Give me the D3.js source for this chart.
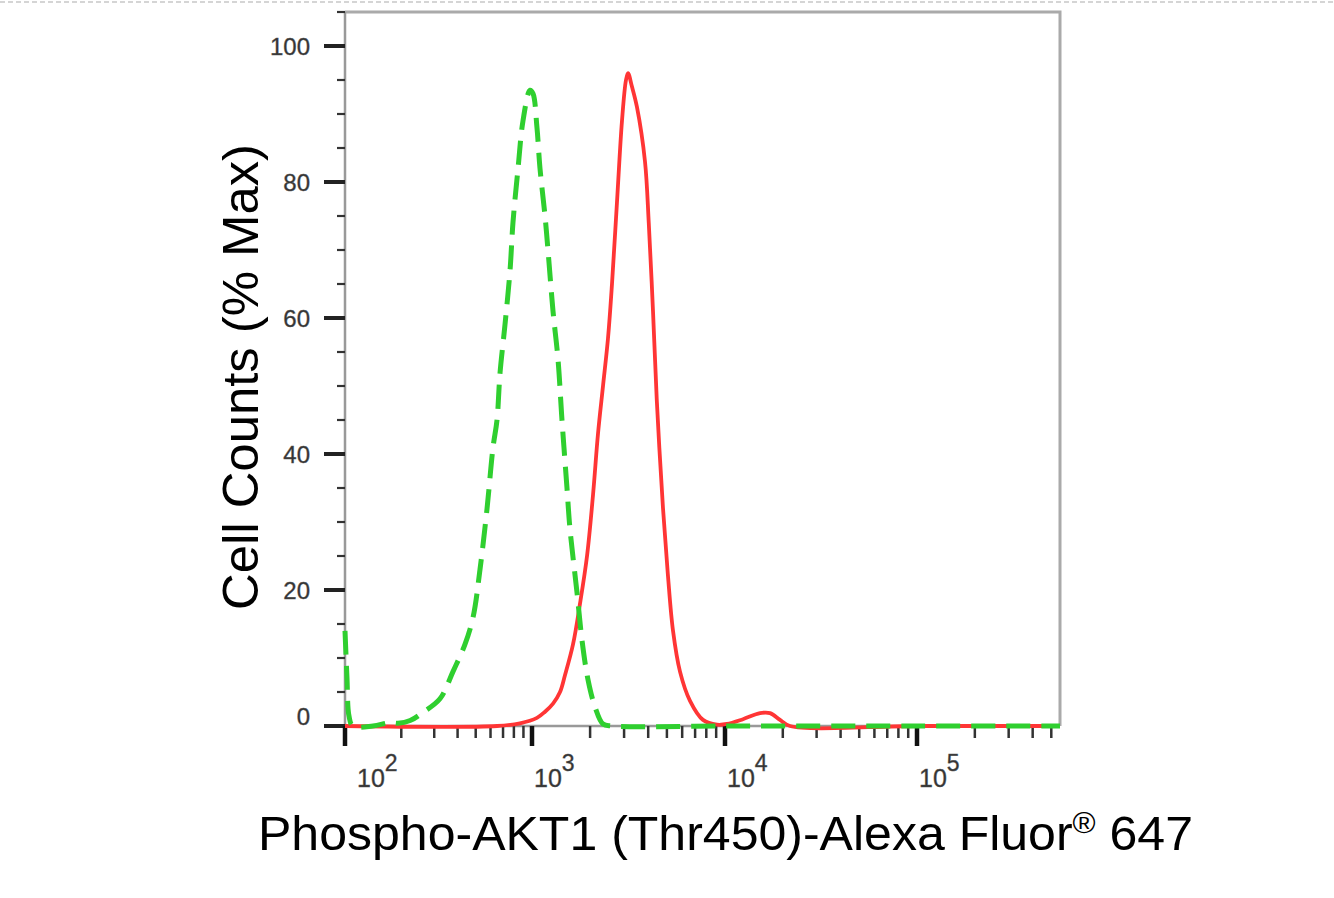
<!DOCTYPE html>
<html>
<head>
<meta charset="utf-8">
<script src="https://cdn.jsdelivr.net/npm/d3@7"></script>
<style>
  body { margin: 0; background: #fff; }
  svg { display: block; }
</style>
</head>
<body>
<svg id="chart"></svg>
<script>
// isotype control (green dashed): [fluorescence, % max]
const controlX = [100, 102.5, 105, 110, 141, 174, 192, 223, 261, 322, 378, 438, 484, 527, 575, 619, 650, 675, 717, 763, 791, 842, 895, 976, 1012,
  1061, 1100, 1168, 1210, 1285, 1363, 1430, 1518, 1573, 1711, 1816, 1951, 2121, 2333, 2597, 10000, 100000, 555000];
const controlY = [14, 7, 1.5, 0, 0, 0.5, 0.4, 0.8, 2, 4, 8, 12, 16, 23, 32, 41, 45, 52, 59, 67, 74, 82, 89, 93.5, 93,
  88, 82, 75, 70, 61, 54, 45, 35, 29, 19.6, 12.6, 6.8, 2.8, 0.3, 0, 0, 0, 0];

// Phospho-AKT1 stained (red solid)
const stainedX = [100, 650, 862, 1061, 1168, 1285, 1397, 1483, 1631, 1773, 1928, 2071, 2198, 2333, 2476, 2597, 2756, 2926, 3069, 3144,
  3297, 3499, 3850, 4027, 4236, 4430, 4773, 5067, 5378, 5846, 6587, 7691, 9087, 10242, 12406, 15219, 17157, 19345, 21806, 100000, 555000];
const stainedY = [0, 0, 0.4, 1.2, 2.1, 3.3, 5, 7.5, 12, 18, 25, 34, 43, 50, 57, 65, 77, 89, 95, 96,
  94, 91, 83, 74, 61, 48, 32, 22, 14, 8, 3.7, 0.9, 0.2, 0.3, 1.0, 1.9, 1.9, 0.9, 0, 0, 0];

const yMajor = [0, 20, 40, 60, 80, 100];
const xDecades = [2, 3, 4, 5];
const xMinorMult = [2, 3, 4, 5, 6, 7, 8, 9];
const xMax = 555000;
const yMax = 105;

const W = 1334, H = 898;
const plotL = 345, plotR = 1060, plotT = 12, plotB = 726;
const font = "Liberation Sans, Arial, sans-serif";

const svg = d3.select("#chart").attr("width", W).attr("height", H);

// top dashed separator
svg.append("line")
  .attr("x1", 0).attr("x2", W).attr("y1", 2).attr("y2", 2)
  .attr("stroke", "#c8c8c8").attr("stroke-width", 1.5)
  .attr("stroke-dasharray", "5,3");

const decadeVals = xDecades.map(d => Math.pow(10, d));
const x = d3.scaleLog()
  .domain([...decadeVals, xMax])
  .range([plotL, 532, 725, 917, plotR]);
const y = d3.scaleLinear().domain([0, yMax]).range([plotB, plotT]);

// frame (top + right)
svg.append("path")
  .attr("d", `M${plotL},${plotT}H${plotR}V${plotB}`)
  .attr("fill", "none").attr("stroke", "#aaa").attr("stroke-width", 3);

// axis lines
svg.append("line").attr("x1", plotL).attr("x2", plotL).attr("y1", plotT).attr("y2", plotB)
  .attr("stroke", "#999").attr("stroke-width", 2.5);
svg.append("line").attr("x1", plotL).attr("x2", plotR).attr("y1", plotB).attr("y2", plotB)
  .attr("stroke", "#999").attr("stroke-width", 2.5);

// y ticks
const yMinor = d3.range(0, yMax + 1, 5).filter(v => v % 20 !== 0);
const gy = svg.append("g").attr("transform", `translate(${plotL},0)`);
gy.selectAll("line.minor").data(yMinor).join("line")
  .attr("class", "minor")
  .attr("x1", -8).attr("x2", 0).attr("y1", d => y(d)).attr("y2", d => y(d))
  .attr("stroke", "#333").attr("stroke-width", 2.2);
gy.selectAll("line.major").data(yMajor).join("line")
  .attr("class", "major")
  .attr("x1", -21).attr("x2", 0).attr("y1", d => y(d)).attr("y2", d => y(d))
  .attr("stroke", "#222").attr("stroke-width", 4);
gy.selectAll("text").data(yMajor).join("text")
  .attr("x", -35)
  .attr("y", d => y(d) + (d === 0 ? -10 : 0))
  .attr("dy", "0.36em")
  .attr("text-anchor", "end")
  .attr("font-family", font)
  .attr("font-size", 24)
  .attr("fill", "#333")
  .attr("stroke", "#555").attr("stroke-width", 0.4)
  .text(d => d);

// x ticks
const xMinor = [];
xDecades.forEach(d => xMinorMult.forEach(m => {
  const v = m * Math.pow(10, d);
  if (v < xMax) xMinor.push(v);
}));
const gx = svg.append("g").attr("transform", `translate(0,${plotB})`);
gx.selectAll("line.minor").data(xMinor).join("line")
  .attr("class", "minor")
  .attr("x1", d => x(d)).attr("x2", d => x(d)).attr("y1", 0).attr("y2", 12)
  .attr("stroke", "#333").attr("stroke-width", 2.5);
gx.selectAll("line.major").data(decadeVals).join("line")
  .attr("class", "major")
  .attr("x1", d => x(d)).attr("x2", d => x(d)).attr("y1", 0).attr("y2", 20)
  .attr("stroke", "#111").attr("stroke-width", 4.5);

const xl = gx.selectAll("text").data(xDecades).join("text")
  .attr("x", d => Math.max(x(Math.pow(10, d)) + 2, plotL + 12))
  .attr("y", 61)
  .attr("font-family", font)
  .attr("font-size", 25)
  .attr("fill", "#333")
  .attr("stroke", "#555").attr("stroke-width", 0.4);
xl.append("tspan").text("10");
xl.append("tspan").attr("dy", -16).attr("font-size", 23).text(d => d);

// curves
const line = d3.line()
  .x(d => x(d[0]))
  .y(d => y(d[1]))
  .curve(d3.curveCatmullRom.alpha(0.5));

const stained = stainedX.map((v, i) => [v, stainedY[i]]);
const control = controlX.map((v, i) => [v, controlY[i]]);

svg.append("path").datum(stained)
  .attr("d", line)
  .attr("fill", "none").attr("stroke", "#ff3535").attr("stroke-width", 3.8)
  .attr("stroke-linejoin", "round");

svg.append("path").datum(control)
  .attr("d", line)
  .attr("fill", "none").attr("stroke", "#2fcf2f").attr("stroke-width", 5)
  .attr("stroke-dasharray", "24,11");

// axis titles
svg.append("text")
  .attr("transform", "translate(258,377) rotate(-90)")
  .attr("text-anchor", "middle")
  .attr("font-family", font)
  .attr("font-size", 50)
  .attr("fill", "#000")
  .attr("textLength", 466)
  .attr("lengthAdjust", "spacingAndGlyphs")
  .text("Cell Counts (% Max)");

const xt = svg.append("text")
  .attr("x", 258).attr("y", 850)
  .attr("font-family", font)
  .attr("font-size", 48)
  .attr("fill", "#000")
  .attr("textLength", 935)
  .attr("lengthAdjust", "spacingAndGlyphs");
xt.append("tspan").text("Phospho-AKT1 (Thr450)-Alexa Fluor");
xt.append("tspan").attr("dy", -17).attr("font-size", 30).text("®");
xt.append("tspan").attr("dy", 17).text(" 647");
</script>
</body>
</html>
